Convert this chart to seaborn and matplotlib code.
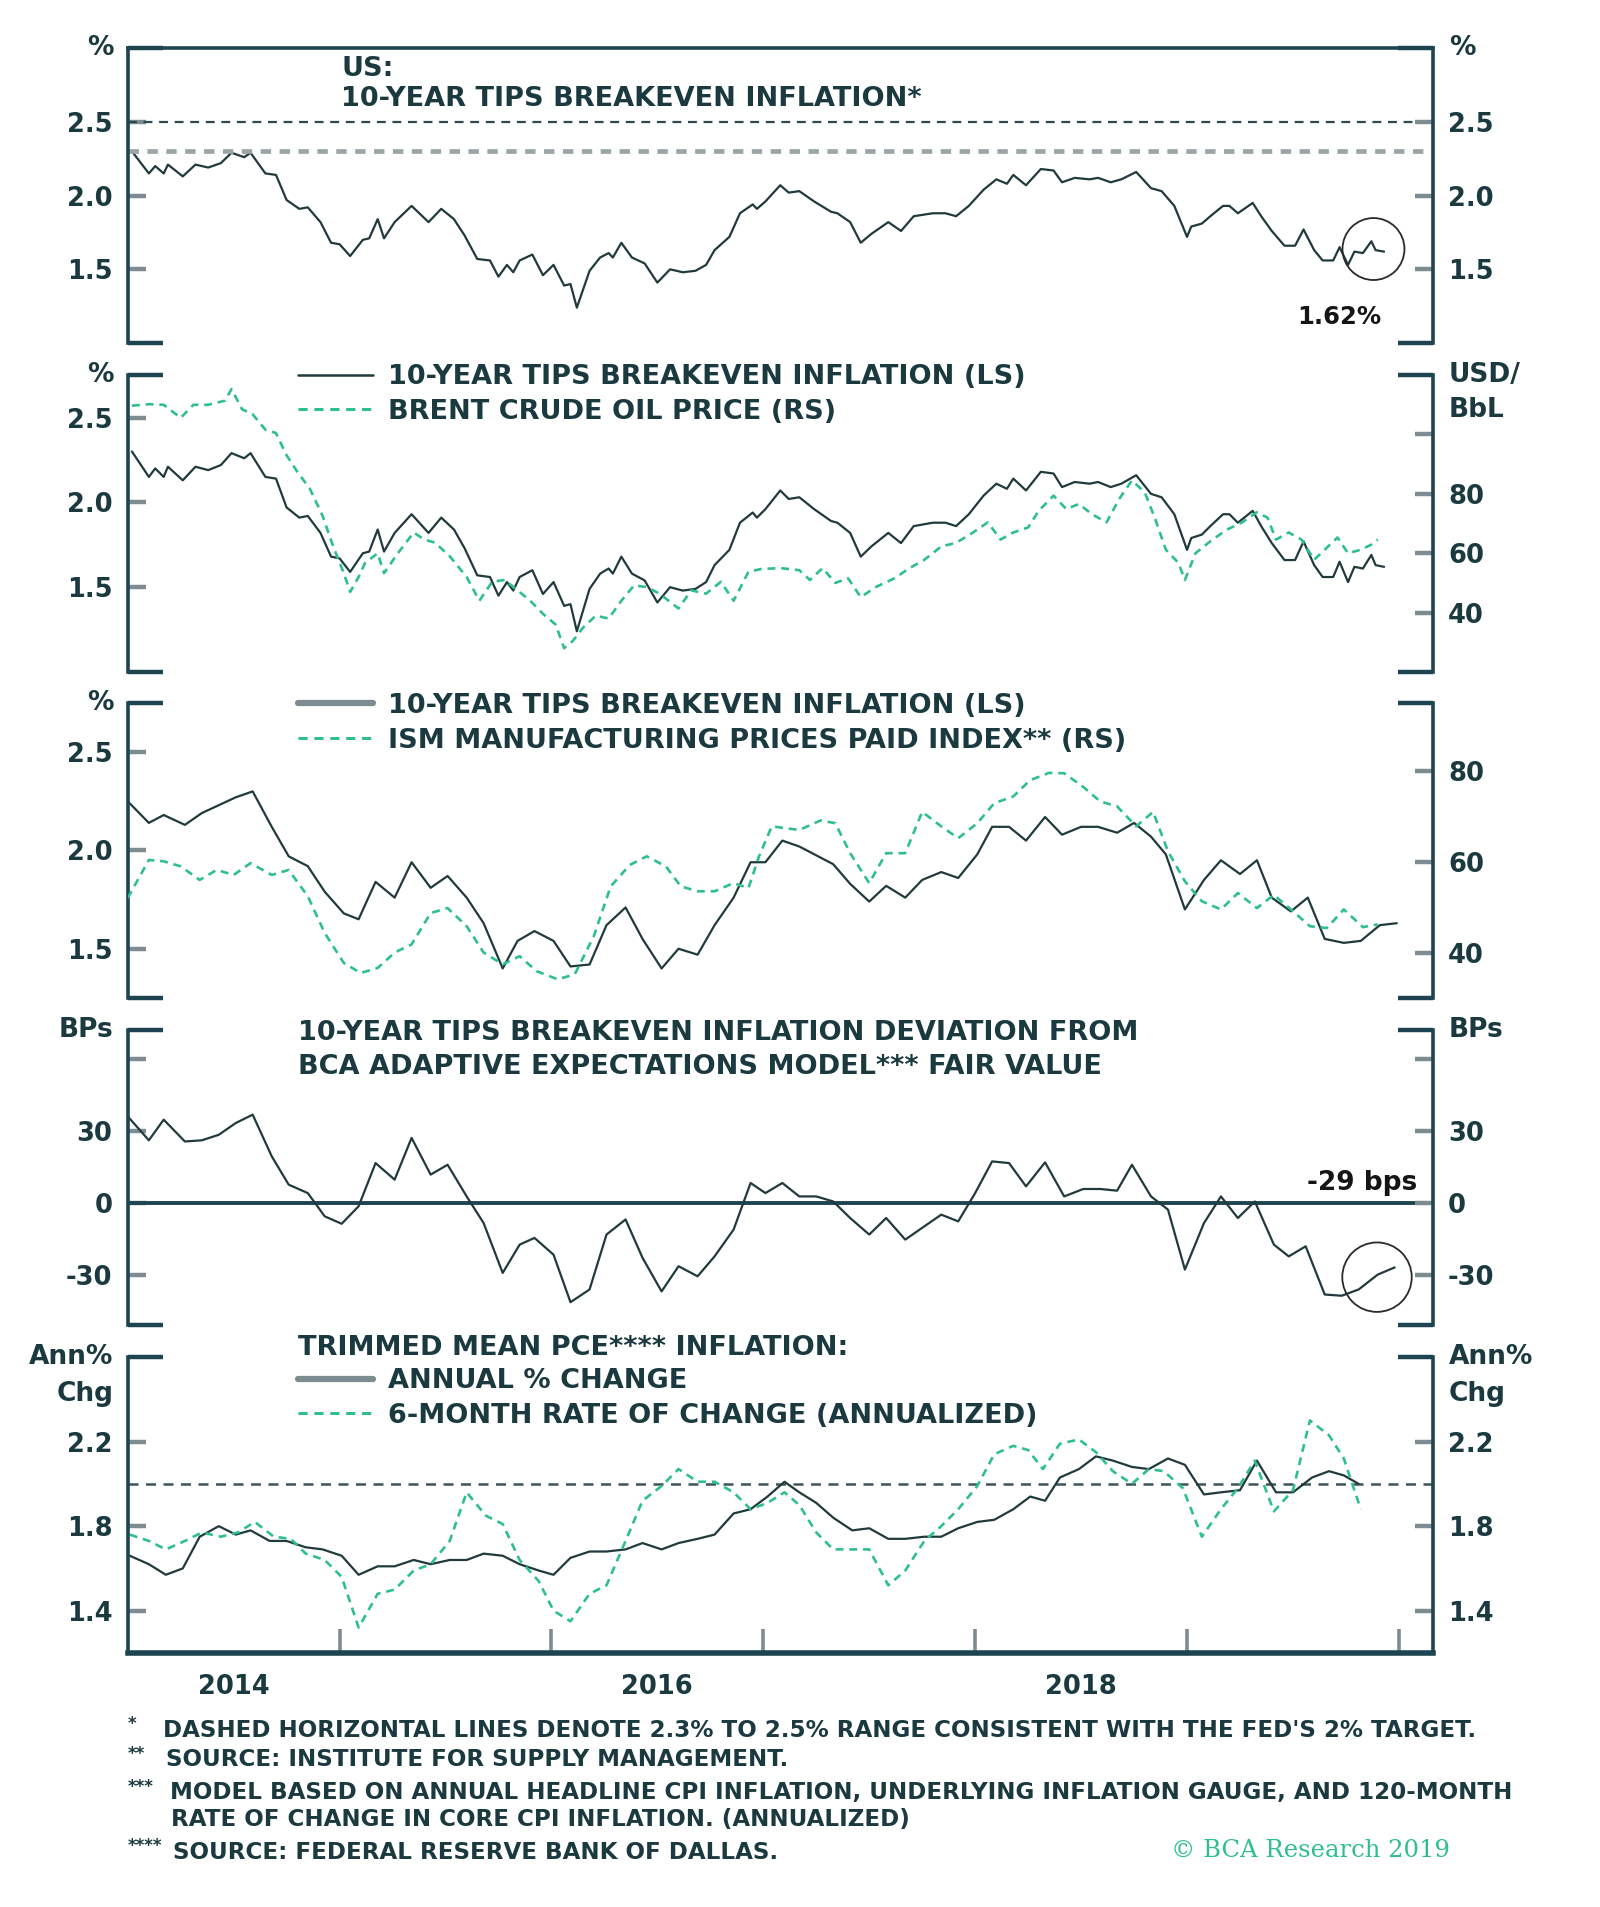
import numpy as np
import pandas as pd
import matplotlib
matplotlib.use("Agg")
import matplotlib.pyplot as plt
from matplotlib.ticker import NullFormatter
from matplotlib.lines import Line2D
import seaborn as sns

# ---------------- DATA ----------------
# 10-year TIPS breakeven inflation, % (high frequency)
tips_x = [2014.02, 2014.10, 2014.13, 2014.17, 2014.19, 2014.26, 2014.32, 2014.38, 2014.44, 2014.49,
          2014.55, 2014.58, 2014.65, 2014.70, 2014.75, 2014.81, 2014.85, 2014.91, 2014.96, 2015.00,
          2015.05, 2015.11, 2015.14, 2015.18, 2015.21, 2015.26, 2015.34, 2015.42, 2015.48, 2015.54,
          2015.59, 2015.65, 2015.71, 2015.75, 2015.79, 2015.82, 2015.85, 2015.91, 2015.96, 2016.01,
          2016.06, 2016.09, 2016.12, 2016.18, 2016.23, 2016.27, 2016.29, 2016.33, 2016.38, 2016.44,
          2016.50, 2016.56, 2016.62, 2016.68, 2016.73, 2016.77, 2016.84, 2016.89, 2016.95, 2016.97,
          2017.01, 2017.08, 2017.12, 2017.17,
          2017.24, 2017.32, 2017.35, 2017.41, 2017.46, 2017.51, 2017.59, 2017.65, 2017.71, 2017.80,
          2017.86, 2017.91, 2017.97, 2018.04, 2018.10, 2018.15, 2018.18, 2018.24, 2018.31, 2018.37,
          2018.41, 2018.47, 2018.54, 2018.58, 2018.64, 2018.69, 2018.76, 2018.83, 2018.88, 2018.94,
          2019.00, 2019.02, 2019.07, 2019.11, 2019.17, 2019.20, 2019.24, 2019.31, 2019.35, 2019.40,
          2019.46, 2019.51, 2019.55, 2019.60, 2019.64, 2019.69, 2019.72, 2019.76, 2019.79, 2019.83,
          2019.87, 2019.89, 2019.93]
tips_y = [2.30, 2.15, 2.20, 2.15, 2.21, 2.13, 2.21, 2.19, 2.22, 2.29,
          2.26, 2.29, 2.15, 2.14, 1.97, 1.91, 1.92, 1.82, 1.68, 1.67,
          1.59, 1.70, 1.71, 1.84, 1.71, 1.82, 1.93, 1.82, 1.91, 1.84,
          1.73, 1.57, 1.56, 1.45, 1.53, 1.48, 1.56, 1.60, 1.46, 1.53,
          1.39, 1.40, 1.24, 1.49, 1.58, 1.61, 1.58, 1.68, 1.58, 1.54,
          1.41, 1.50, 1.48, 1.49, 1.53, 1.63, 1.72, 1.88, 1.94, 1.91,
          1.96, 2.07, 2.02, 2.03,
          1.96, 1.89, 1.88, 1.82, 1.68, 1.74, 1.82, 1.76, 1.86, 1.88,
          1.88, 1.86, 1.93, 2.04, 2.11, 2.08, 2.14, 2.07, 2.18, 2.17,
          2.09, 2.12, 2.11, 2.12, 2.09, 2.11, 2.16, 2.05, 2.03, 1.93,
          1.72, 1.79, 1.81, 1.86, 1.93, 1.93, 1.88, 1.95, 1.86, 1.76,
          1.66, 1.66, 1.77, 1.63, 1.56, 1.56, 1.65, 1.53, 1.62, 1.61,
          1.69, 1.63, 1.62]

# Brent crude oil price, USD/bbl
brent_x = [2014.02, 2014.10, 2014.17, 2014.25, 2014.31, 2014.38, 2014.46, 2014.49, 2014.54, 2014.59,
           2014.65, 2014.70, 2014.75, 2014.80, 2014.86, 2014.92, 2014.97, 2015.02, 2015.05, 2015.09,
           2015.12, 2015.18, 2015.21, 2015.27, 2015.35, 2015.40, 2015.45, 2015.52, 2015.60, 2015.66,
           2015.72, 2015.78, 2015.84, 2015.90, 2015.96, 2016.02, 2016.06, 2016.10, 2016.15, 2016.21,
           2016.27, 2016.33, 2016.39, 2016.45, 2016.51, 2016.60, 2016.66, 2016.73, 2016.80, 2016.86,
           2016.93, 2016.99, 2017.08, 2017.17,
           2017.22, 2017.28, 2017.34, 2017.40, 2017.46, 2017.53, 2017.62, 2017.69, 2017.76, 2017.84,
           2017.91, 2017.99, 2018.06, 2018.12, 2018.18, 2018.25, 2018.30, 2018.37, 2018.43, 2018.49,
           2018.55, 2018.62, 2018.68, 2018.74, 2018.80, 2018.85, 2018.90, 2018.96, 2018.99, 2019.04,
           2019.12, 2019.19, 2019.26, 2019.33, 2019.38, 2019.42, 2019.48, 2019.54, 2019.60, 2019.65,
           2019.71, 2019.76, 2019.82, 2019.87, 2019.90]
brent_y = [109.7, 110.2, 110.0, 105.6, 110.0, 110.0, 111.4, 115.3, 108.5, 106.8,
           101.6, 100.5, 93.0, 87.5, 81.7, 72.6, 62.3, 53.3, 47.0, 52.0,
           56.7, 60.0, 53.3, 59.5, 67.0, 64.6, 63.6, 59.0, 52.0, 44.0,
           50.4, 51.0, 47.5, 44.0, 39.6, 36.0, 28.0, 30.4, 35.0, 39.0,
           38.0, 44.0, 49.2, 48.6, 46.4, 41.4, 47.5, 46.4, 50.4, 44.0,
           53.8, 54.7, 55.0, 54.3,
           51.0, 55.0, 50.0, 51.6, 45.2, 48.6, 51.6, 55.0, 57.8, 62.3,
           63.5, 67.0, 70.4, 64.6, 67.0, 68.7, 74.3, 79.4, 74.9, 76.6,
           73.2, 70.4, 78.3, 84.5, 80.6, 71.5, 61.2, 56.7, 51.0, 60.0,
           64.6, 68.0, 70.4, 73.8, 72.0, 64.6, 67.0, 64.6, 57.8, 61.2,
           65.3, 60.0, 61.2, 62.9, 64.6]

# 10-year TIPS breakeven, monthly, %
tipsm_x = [2014.00, 2014.10, 2014.17, 2014.27, 2014.35, 2014.43, 2014.51, 2014.59, 2014.68, 2014.76,
           2014.85, 2014.93, 2015.02, 2015.09, 2015.17, 2015.26, 2015.34, 2015.43, 2015.51, 2015.60,
           2015.68, 2015.77, 2015.84, 2015.92, 2016.01, 2016.09, 2016.18, 2016.26, 2016.35, 2016.43,
           2016.52, 2016.60, 2016.69, 2016.77, 2016.86, 2016.94, 2017.01, 2017.09, 2017.17,
           2017.33, 2017.41, 2017.50, 2017.58, 2017.67, 2017.75, 2017.84, 2017.92, 2018.01, 2018.08,
           2018.16, 2018.24, 2018.33, 2018.41, 2018.50, 2018.58, 2018.67, 2018.75, 2018.83, 2018.90,
           2018.99, 2019.08, 2019.16, 2019.25, 2019.33, 2019.40, 2019.49, 2019.57, 2019.65, 2019.74,
           2019.82, 2019.91, 2019.99]
tipsm_y = [2.25, 2.14, 2.18, 2.13, 2.19, 2.23, 2.27, 2.30, 2.12, 1.97,
           1.92, 1.79, 1.68, 1.65, 1.84, 1.76, 1.94, 1.81, 1.87, 1.76,
           1.63, 1.40, 1.54, 1.59, 1.54, 1.41, 1.42, 1.62, 1.71, 1.55,
           1.40, 1.50, 1.47, 1.62, 1.76, 1.94, 1.94, 2.05, 2.02,
           1.93, 1.83, 1.74, 1.82, 1.76, 1.85, 1.89, 1.86, 1.98, 2.12,
           2.12, 2.05, 2.17, 2.08, 2.12, 2.12, 2.09, 2.14, 2.07, 1.98,
           1.70, 1.85, 1.95, 1.88, 1.95, 1.76, 1.69, 1.76, 1.55, 1.53,
           1.54, 1.62, 1.63]

# ISM manufacturing prices paid index
ism_x = [2014.00, 2014.10, 2014.17, 2014.25, 2014.34, 2014.42, 2014.50, 2014.58, 2014.68, 2014.76,
         2014.85, 2014.93, 2015.02, 2015.10, 2015.18, 2015.26, 2015.34, 2015.43, 2015.51, 2015.60,
         2015.68, 2015.77, 2015.85, 2015.93, 2016.03, 2016.11, 2016.20, 2016.28, 2016.37, 2016.45,
         2016.54, 2016.61, 2016.69, 2016.77, 2016.86, 2016.93, 2016.98, 2017.04, 2017.17,
         2017.27, 2017.34, 2017.41, 2017.50, 2017.58, 2017.67, 2017.75, 2017.84, 2017.92, 2018.01,
         2018.09, 2018.18, 2018.26, 2018.35, 2018.42, 2018.51, 2018.59, 2018.67, 2018.76, 2018.84,
         2018.91, 2018.99, 2019.07, 2019.16, 2019.24, 2019.33, 2019.41, 2019.49, 2019.58, 2019.66,
         2019.74, 2019.83, 2019.90]
ism_y = [52.0, 60.4, 60.1, 59.0, 56.0, 58.2, 57.1, 59.7, 57.1, 58.2,
         52.4, 44.3, 37.7, 35.5, 36.6, 40.0, 41.8, 48.7, 49.8, 45.8,
         40.0, 37.4, 39.2, 35.9, 34.1, 35.2, 43.6, 54.6, 59.3, 61.2,
         59.0, 54.6, 53.5, 53.5, 55.3, 54.2, 61.2, 67.8, 67.0,
         69.1, 68.5, 61.9, 55.3, 61.9, 61.9, 71.0, 67.8, 65.2, 68.5,
         72.9, 74.4, 78.0, 79.6, 79.5, 76.5, 73.3, 72.2, 67.8, 71.0,
         62.3, 55.7, 51.3, 49.5, 53.1, 49.8, 52.7, 49.5, 45.8, 45.4,
         49.5, 45.6, 46.2]

# Deviation from BCA adaptive expectations model fair value, bps
dev_x = [2014.00, 2014.10, 2014.17, 2014.27, 2014.35, 2014.43, 2014.51, 2014.59, 2014.68, 2014.76,
         2014.85, 2014.93, 2015.01, 2015.09, 2015.17, 2015.26, 2015.34, 2015.43, 2015.51, 2015.60,
         2015.68, 2015.77, 2015.85, 2015.92, 2016.01, 2016.09, 2016.18, 2016.26, 2016.35, 2016.43,
         2016.52, 2016.60, 2016.69, 2016.77, 2016.86, 2016.94, 2017.01, 2017.09, 2017.17,
         2017.25, 2017.33, 2017.41, 2017.50, 2017.58, 2017.67, 2017.75, 2017.84, 2017.92, 2018.00,
         2018.08, 2018.16, 2018.24, 2018.33, 2018.42, 2018.51, 2018.59, 2018.67, 2018.74, 2018.83,
         2018.91, 2018.99, 2019.08, 2019.16, 2019.24, 2019.32, 2019.41, 2019.48, 2019.56, 2019.65,
         2019.73, 2019.81, 2019.90, 2019.98]
dev_y = [36.0, 26.0, 34.6, 25.5, 26.0, 28.3, 33.2, 36.7, 19.3, 7.5,
         4.0, -5.7, -8.8, -1.5, 16.5, 9.6, 27.0, 11.7, 15.8, 2.6,
         -8.5, -29.3, -17.5, -14.7, -21.7, -41.5, -36.2, -13.3, -7.0, -23.0,
         -37.0, -26.5, -30.7, -22.4, -11.2, 8.2, 4.0, 8.2, 2.6,
         2.6, 0.5, -6.4, -13.3, -6.4, -15.4, -10.5, -5.0, -7.8, 4.0,
         17.2, 16.5, 6.8, 16.8, 2.6, 5.7, 5.7, 5.0, 15.8, 2.6,
         -2.9, -27.9, -8.5, 2.6, -6.4, 0.5, -17.5, -22.4, -18.2, -38.3,
         -38.8, -36.2, -30.0, -27.0]

# Trimmed mean PCE inflation: annual % change
pce_x = [2014.01, 2014.10, 2014.18, 2014.26, 2014.34, 2014.43, 2014.51, 2014.58, 2014.67, 2014.75,
         2014.84, 2014.92, 2015.01, 2015.09, 2015.18, 2015.26, 2015.35, 2015.43, 2015.52, 2015.60,
         2015.68, 2015.77, 2015.85, 2015.94, 2016.01, 2016.09, 2016.18, 2016.26, 2016.35, 2016.43,
         2016.52, 2016.60, 2016.69, 2016.77, 2016.86, 2016.94, 2017.02, 2017.10,
         2017.17, 2017.25, 2017.33, 2017.42, 2017.50, 2017.59, 2017.67, 2017.76, 2017.84, 2017.92,
         2018.01, 2018.09, 2018.18, 2018.26, 2018.33, 2018.40, 2018.49, 2018.57, 2018.65, 2018.74,
         2018.82, 2018.91, 2018.99, 2019.08, 2019.16, 2019.25, 2019.33, 2019.42, 2019.50, 2019.59,
         2019.67, 2019.74, 2019.81]
pce_y = [1.66, 1.62, 1.57, 1.60, 1.75, 1.80, 1.76, 1.78, 1.73, 1.73,
         1.70, 1.69, 1.66, 1.57, 1.61, 1.61, 1.64, 1.62, 1.64, 1.64,
         1.67, 1.66, 1.62, 1.59, 1.57, 1.65, 1.68, 1.68, 1.69, 1.72,
         1.69, 1.72, 1.74, 1.76, 1.86, 1.88, 1.94, 2.01,
         1.96, 1.91, 1.84, 1.78, 1.79, 1.74, 1.74, 1.75, 1.75, 1.79,
         1.82, 1.83, 1.88, 1.94, 1.92, 2.03, 2.07, 2.13, 2.11, 2.08,
         2.07, 2.12, 2.09, 1.95, 1.96, 1.97, 2.11, 1.96, 1.96, 2.03,
         2.06, 2.04, 2.00]

# Trimmed mean PCE inflation: 6-month rate of change (annualized)
pce6_x = [2014.01, 2014.10, 2014.18, 2014.27, 2014.35, 2014.44, 2014.52, 2014.60, 2014.69, 2014.77,
          2014.84, 2014.93, 2015.01, 2015.09, 2015.18, 2015.26, 2015.35, 2015.43, 2015.52, 2015.60,
          2015.69, 2015.77, 2015.85, 2015.94, 2016.01, 2016.09, 2016.18, 2016.26, 2016.35, 2016.43,
          2016.52, 2016.60, 2016.69, 2016.77, 2016.86, 2016.94, 2017.02, 2017.10,
          2017.17, 2017.25, 2017.33, 2017.42, 2017.50, 2017.59, 2017.67, 2017.76, 2017.84, 2017.92,
          2018.01, 2018.09, 2018.18, 2018.25, 2018.32, 2018.40, 2018.49, 2018.57, 2018.65, 2018.74,
          2018.82, 2018.89, 2018.98, 2019.07, 2019.16, 2019.24, 2019.32, 2019.41, 2019.50, 2019.58,
          2019.67, 2019.74, 2019.82]
pce6_y = [1.76, 1.73, 1.69, 1.73, 1.77, 1.75, 1.77, 1.82, 1.75, 1.74,
          1.67, 1.64, 1.56, 1.32, 1.48, 1.50, 1.59, 1.62, 1.73, 1.96,
          1.85, 1.81, 1.64, 1.54, 1.40, 1.35, 1.48, 1.52, 1.73, 1.92,
          1.99, 2.07, 2.01, 2.01, 1.96, 1.88, 1.91, 1.96,
          1.90, 1.77, 1.69, 1.69, 1.69, 1.52, 1.59, 1.73, 1.80, 1.88,
          1.99, 2.14, 2.18, 2.16, 2.07, 2.19, 2.21, 2.15, 2.06, 2.00,
          2.07, 2.06, 1.98, 1.75, 1.88, 1.98, 2.11, 1.87, 1.97, 2.30,
          2.23, 2.12, 1.88]

target_band = [2.3, 2.5]          # panel 1 dashed lines
pce_target = [2.0]                # panel 5 dashed line
year_label_pos = [2014.5, 2016.5, 2018.5]
year_labels = ["2014", "2016", "2018"]
year_ticks = [2015, 2016, 2017, 2018, 2019, 2020]

# ---------------- STYLE ----------------
sns.set_style("white")
plt.rcParams['font.family'] = ['DejaVu Sans']
plt.rcParams['font.weight'] = 'bold'

DARK = '#203a3d'
SPINE = '#1d4450'
TICKC = '#7d8c90'
TXT = '#1b3a40'
GREEN = '#2fbf8f'
X0, X1 = 2014.0, 2020.16
FS = 19.5     # panel titles / legends
TFS = 18.5    # tick labels
UFS = 19      # unit labels

fig = plt.figure(figsize=(16, 19.07), dpi=100)
L, W = 0.0798, 0.8157
rows = [(0.8201, 0.1547), (0.6476, 0.1557), (0.4767, 0.1547), (0.3052, 0.1547), (0.1332, 0.1552)]
axes = [fig.add_axes([L, b, W, h]) for b, h in rows]
twins = [a.twinx() for a in axes]


def draw(ax, x, y, color=DARK, lw=1.6, dashed=False, label=None):
    sns.lineplot(x=x, y=y, ax=ax, color=color, linewidth=lw, estimator=None,
                 sort=False, legend=False, label=label)
    ln = ax.lines[-1]
    if dashed:
        ln.set_dashes([3.0, 2.2])
    if label:
        ln.set_label(label)
    return ln


def style(ax, tw, ylim, yt, ylab, ylim_r=None, yt_r=None, ylab_r=None):
    ylim_r = ylim if ylim_r is None else ylim_r
    yt_r = yt if yt_r is None else yt_r
    ylab_r = ylab if ylab_r is None else ylab_r
    for a, side, lim, t, lab in ((ax, 'left', ylim, yt, ylab), (tw, 'right', ylim_r, yt_r, ylab_r)):
        a.set_xlim(X0, X1)
        a.set_ylim(*lim)
        a.set_xlabel('')
        a.set_ylabel('')
        for s in a.spines.values():
            s.set_visible(False)
        a.spines[side].set_visible(True)
        a.spines[side].set_color(SPINE)
        a.spines[side].set_linewidth(2.6)
        a.set_yticks(t)
        a.set_yticklabels(lab)
        a.set_yticks(list(lim), minor=True)
        a.yaxis.set_minor_formatter(NullFormatter())
        a.tick_params(axis='y', which='major', direction='in', length=13, width=3.2,
                      color=TICKC, labelsize=TFS, labelcolor=TXT, pad=11)
        a.tick_params(axis='y', which='minor', direction='in', length=25, width=3.2, color=SPINE)
    ax.tick_params(axis='x', which='both', bottom=False, labelbottom=False, top=False)
    ax.patch.set_visible(False)


def units(ax, left, right, h_px, gap=35):
    for i, s in enumerate(left):
        ax.text(-0.011, 1.0 - i * gap / h_px, s, transform=ax.transAxes, ha='right',
                va='center', fontsize=UFS, color=TXT)
    for i, s in enumerate(right):
        ax.text(1.0125, 1.0 - i * gap / h_px, s, transform=ax.transAxes, ha='left',
                va='center', fontsize=UFS, color=TXT)


def legend(tw, handles, labels, y):
    tw.legend(handles=handles, labels=labels, loc='upper left', bbox_to_anchor=(0.1306, y),
              frameon=False, fontsize=FS, handlelength=2.75, handletextpad=0.55,
              labelspacing=0.32, borderaxespad=0, borderpad=0, labelcolor=TXT)


def gray_key():
    return Line2D([], [], color=TICKC, lw=4.5)


def green_key():
    return Line2D([], [], color=GREEN, lw=2.2, dashes=[3.0, 2.2])


# ---------------- PANEL 1 ----------------
ax, tw = axes[0], twins[0]
l1 = draw(ax, tips_x, tips_y)
ax.axhline(target_band[1], color='#2e4a50', lw=1.6, dashes=[4, 3])
ax.axhline(target_band[0], color='#9aa5a8', lw=3.4, dashes=[2.2, 1.8])
style(ax, tw, (1.0, 3.0), [1.5, 2.0, 2.5], ['1.5', '2.0', '2.5'])
ax.spines['top'].set_visible(True)
ax.spines['top'].set_color(SPINE)
ax.spines['top'].set_linewidth(2.6)
units(ax, ['%'], ['%'], 295)
ax.text(0.1635, 0.93, 'US:', transform=ax.transAxes, ha='left', va='center', fontsize=FS, color=TXT)
ax.text(0.1635, 0.828, '10-YEAR TIPS BREAKEVEN INFLATION*', transform=ax.transAxes,
        ha='left', va='center', fontsize=FS, color=TXT)
cx, cy = np.mean(tips_x[-4:]), np.mean(tips_y[-4:])
ax.scatter([cx], [cy], s=1990, facecolors='none', edgecolors='#2a2a2a', linewidths=1.3, zorder=5)
ax.text(tips_x[-1] - 0.21, 1.18, f"{tips_y[-1]:.2f}%", ha='center', va='center',
        fontsize=17.5, color='#151515')

# ---------------- PANEL 2 ----------------
ax, tw = axes[1], twins[1]
l2a = draw(ax, tips_x, tips_y)
l2b = draw(tw, brent_x, brent_y, color=GREEN, lw=1.9, dashed=True)
style(ax, tw, (1.0, 2.75), [1.5, 2.0, 2.5], ['1.5', '2.0', '2.5'],
      (20, 120), [40, 60, 80, 100], ['40', '60', '80', ''])
units(ax, ['%'], ['USD/', 'BbL'], 297)
legend(tw, [Line2D([], [], color=DARK, lw=1.8), green_key()],
       ['10-YEAR TIPS BREAKEVEN INFLATION (LS)', 'BRENT CRUDE OIL PRICE (RS)'], 1.037)

# ---------------- PANEL 3 ----------------
ax, tw = axes[2], twins[2]
l3a = draw(ax, tipsm_x, tipsm_y)
l3b = draw(tw, ism_x, ism_y, color=GREEN, lw=1.9, dashed=True)
style(ax, tw, (1.25, 2.75), [1.5, 2.0, 2.5], ['1.5', '2.0', '2.5'],
      (30, 95), [40, 60, 80], ['40', '60', '80'])
units(ax, ['%'], [], 295)
legend(tw, [gray_key(), green_key()],
       ['10-YEAR TIPS BREAKEVEN INFLATION (LS)', 'ISM MANUFACTURING PRICES PAID INDEX** (RS)'], 1.034)

# ---------------- PANEL 4 ----------------
ax, tw = axes[3], twins[3]
ax.axhline(0, color=SPINE, lw=2.8)
l4 = draw(ax, dev_x, dev_y)
style(ax, tw, (-51, 72), [-30, 0, 30, 60], ['-30', '0', '30', ''])
units(ax, ['BPs'], ['BPs'], 295)
ax.text(0.1306, 0.99, '10-YEAR TIPS BREAKEVEN INFLATION DEVIATION FROM', transform=ax.transAxes,
        ha='left', va='center', fontsize=FS, color=TXT)
ax.text(0.1306, 0.876, 'BCA ADAPTIVE EXPECTATIONS MODEL*** FAIR VALUE', transform=ax.transAxes,
        ha='left', va='center', fontsize=FS, color=TXT)
cx, cy = np.mean(dev_x[-3:]), np.mean(dev_y[-3:])
ax.scatter([cx], [cy], s=2500, facecolors='none', edgecolors='#2a2a2a', linewidths=1.3, zorder=5)
ax.text(0.988, 8, '-29 bps', transform=ax.get_yaxis_transform(), ha='right', va='center',
        fontsize=19, color='#151515')

# ---------------- PANEL 5 ----------------
ax, tw = axes[4], twins[4]
ax.axhline(pce_target[0], color='#3e555a', lw=1.8, dashes=[4, 3])
l5a = draw(ax, pce_x, pce_y)
l5b = draw(ax, pce6_x, pce6_y, color=GREEN, lw=1.9, dashed=True)
style(ax, tw, (1.2, 2.6), [1.4, 1.8, 2.2], ['1.4', '1.8', '2.2'])
tw.set_yticks([2.6], minor=True)
ax.set_yticks([2.6], minor=True)
ax.spines['bottom'].set_visible(True)
ax.spines['bottom'].set_color(SPINE)
ax.spines['bottom'].set_linewidth(4)
ax.set_xticks(year_ticks)
ax.xaxis.set_major_formatter(NullFormatter())
ax.set_xticks(year_label_pos, labels=year_labels, minor=True)
ax.tick_params(axis='x', which='major', bottom=True, direction='in', length=17, width=2.6, color=TICKC)
ax.tick_params(axis='x', which='minor', bottom=True, labelbottom=True, length=0, labelsize=18.5,
               labelcolor=TXT, pad=15)
units(ax, ['Ann%', 'Chg'], ['Ann%', 'Chg'], 296, gap=37)
ax.text(0.1306, 1.032, 'TRIMMED MEAN PCE**** INFLATION:', transform=ax.transAxes,
        ha='left', va='center', fontsize=FS, color=TXT)
legend(tw, [gray_key(), green_key()],
       ['ANNUAL % CHANGE', '6-MONTH RATE OF CHANGE (ANNUALIZED)'], 0.962)

# ---------------- FOOTNOTES ----------------
notes = [
    ("*", 0.102, 0.0928, "DASHED HORIZONTAL LINES DENOTE 2.3% TO 2.5% RANGE CONSISTENT WITH THE FED'S 2% TARGET."),
    ("**", 0.104, 0.0771, "SOURCE: INSTITUTE FOR SUPPLY MANAGEMENT."),
    ("***", 0.106, 0.0598, "MODEL BASED ON ANNUAL HEADLINE CPI INFLATION, UNDERLYING INFLATION GAUGE, AND 120-MONTH"),
    ("", 0.107, 0.0460, "RATE OF CHANGE IN CORE CPI INFLATION. (ANNUALIZED)"),
    ("****", 0.108, 0.0288, "SOURCE: FEDERAL RESERVE BANK OF DALLAS."),
]
for mark, tx, ty, s in notes:
    if mark:
        fig.text(0.080, ty + 0.003, mark, ha='left', va='center', fontsize=12, color=TXT)
    fig.text(tx, ty, s, ha='left', va='center', fontsize=16.6, color=TXT)
fig.text(0.732, 0.0299, '\u00a9 BCA Research 2019', ha='left', va='center', fontsize=17.5,
         color=GREEN, family=['DejaVu Serif'], fontweight='normal')

fig.savefig('out.png', dpi=100, facecolor='white')
